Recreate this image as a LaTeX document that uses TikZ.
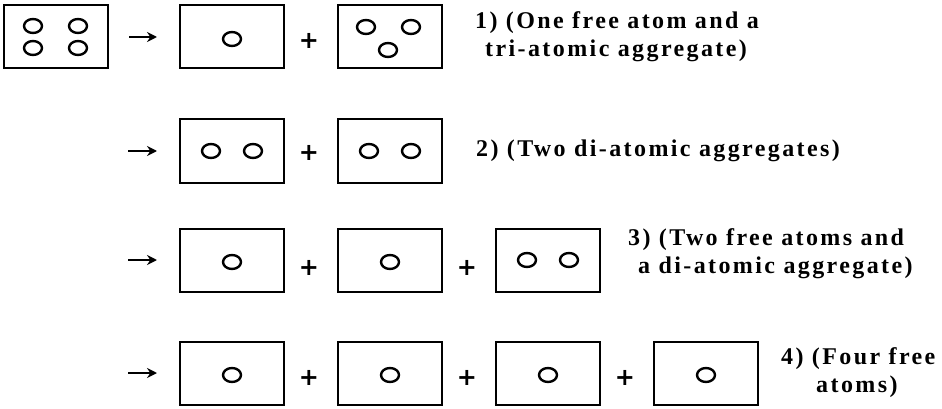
\documentclass[tikz,border=0pt]{standalone}
\usepackage{fontspec}
\setmainfont{Liberation Serif}
\newfontfamily\plusfont{DejaVu Sans}
\usetikzlibrary{arrows.meta,positioning,shapes.geometric}

\begin{document}
\begin{tikzpicture}[
  x=1pt, y=-1pt,
  box/.style={draw, line width=2pt, minimum width=104pt, minimum height=63pt, inner sep=0pt},
  atom/.style={draw, ellipse, line width=2.4pt, minimum width=18pt, minimum height=14pt, inner sep=0pt},
  plus/.style={font=\plusfont\bfseries\fontsize{24}{24}\selectfont, inner sep=0pt},
  note/.style={align=left, inner sep=0pt,
    font=\bfseries\fontsize{24}{28}\selectfont\addfontfeatures{LetterSpace=10}},
  arr/.style={-{Stealth[length=10pt,width=10pt]}, line width=2pt},
  node distance=52pt
]
\useasboundingbox (0,0) rectangle (942,409);

% ---------- ROW 1 ----------
\node[box] (a0) at (56,37) {};
\node[box] (a1) at (232,37) {};
\node[box, right=of a1] (a2) {};
\node[atom] at ([xshift=-23pt,yshift=11pt]a0.center) {};
\node[atom] at ([xshift=22pt,yshift=11pt]a0.center) {};
\node[atom] at ([xshift=-23pt,yshift=-11pt]a0.center) {};
\node[atom] at ([xshift=22pt,yshift=-11pt]a0.center) {};
\node[atom] at ([yshift=-2pt]a1.center) {};
\node[atom] at ([xshift=-24pt,yshift=10pt]a2.center) {};
\node[atom] at ([xshift=21pt,yshift=10pt]a2.center) {};
\node[atom] at ([xshift=-2pt,yshift=-13pt]a2.center) {};
\node[plus] (pa1) at ([xshift=24pt,yshift=-4pt]a1.east) {+};
\node[note, right=32pt of a2] (ta) {1) (One free atom and a\\\hspace{10pt}tri-atomic aggregate)};

\draw[arr, shorten <=20pt, shorten >=22pt] (a0) -- (a1);

% ---------- ROW 2 ----------
\coordinate (sb) at (128,151);
\node[box] (b1) at (232,151) {};
\node[box, right=of b1] (b2) {};
\node[atom] at ([xshift=-21pt]b1.center) {};
\node[atom] at ([xshift=21pt]b1.center) {};
\node[atom] at ([xshift=-21pt]b2.center) {};
\node[atom] at ([xshift=21pt]b2.center) {};
\node[plus] (pb1) at ([xshift=24pt,yshift=-2pt]b1.east) {+};
\node[note, right=33pt of b2] (tb) {2) (Two di-atomic aggregates)};

\draw[arr, shorten >=22pt] (sb) -- (b1);

% ---------- ROW 3 ----------
\coordinate (sc) at (128,260);
\node[box] (c1) at (232,260) {};
\node[box, right=of c1] (c2) {};
\node[box, right=of c2] (c3) {};
\node[atom] at ([yshift=-2pt]c1.center) {};
\node[atom] at ([yshift=-2pt]c2.center) {};
\node[atom] at ([xshift=-21pt]c3.center) {};
\node[atom] at ([xshift=21pt]c3.center) {};
\node[plus] (pc1) at ([xshift=24pt,yshift=-8pt]c1.east) {+};
\node[plus] (pc2) at ([xshift=24pt,yshift=-8pt]c2.east) {+};
\node[note, right=27pt of c3, yshift=6pt] (tc) {3) (Two free atoms and\\\hspace{10pt}a di-atomic aggregate)};

\draw[arr, shorten >=22pt] (sc) -- (c1);

% ---------- ROW 4 ----------
\coordinate (sd) at (128,373);
\node[box] (d1) at (232,373) {};
\node[box, right=of d1] (d2) {};
\node[box, right=of d2] (d3) {};
\node[box, right=of d3] (d4) {};
\foreach \n in {d1,d2,d3,d4}
  \node[atom] at ([yshift=-2pt]\n.center) {};
\foreach \n/\m in {d1/1,d2/2,d3/3}
  \node[plus] (pd\m) at ([xshift=24pt,yshift=-5pt]\n.east) {+};
\node[note, right=22pt of d4] (td) {4) (Four free\\\hspace{35pt}atoms)};

\draw[arr, shorten >=22pt] (sd) -- (d1);

\end{tikzpicture}
\end{document}
